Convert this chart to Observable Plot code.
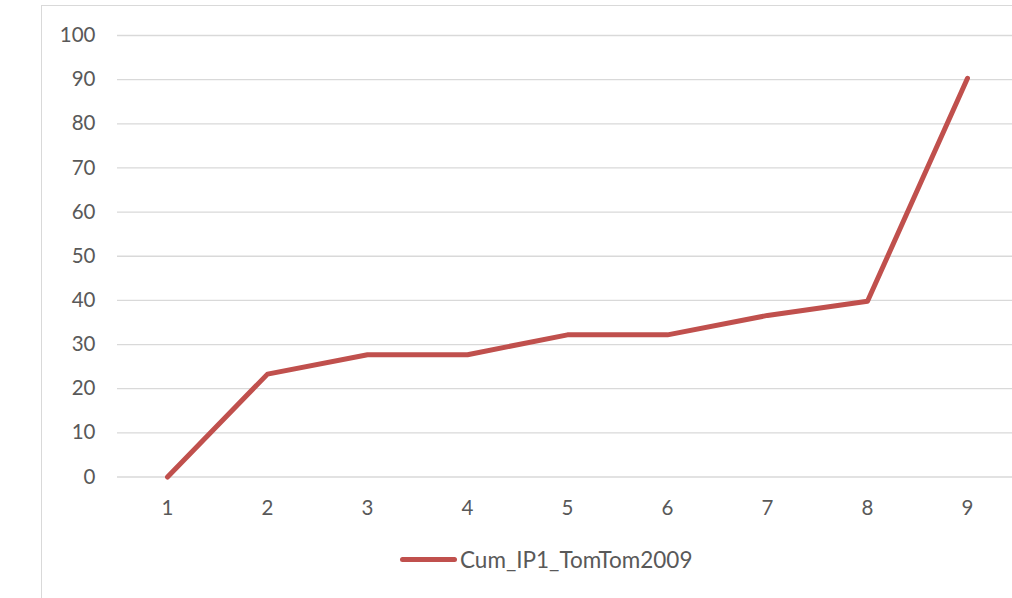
<!DOCTYPE html>
<html>
<head>
<meta charset="utf-8">
<script src="https://cdn.jsdelivr.net/npm/d3@7"></script>
<script src="https://cdn.jsdelivr.net/npm/@observablehq/plot@0.6"></script>
<style>
  html, body { margin: 0; padding: 0; background: #fff; overflow: hidden; width: 1012px; height: 598px; }
  #wrap { position: relative; width: 1012px; height: 598px; font-family: Lato, "Open Sans", sans-serif; }
  #frame { position: absolute; left: 41px; top: 5px; width: 1100px; height: 800px; border: 1px solid #d9d9d9; box-sizing: border-box; }
  #chart { position: absolute; left: 0; top: 0; }
  #legend { position: absolute; left: 400px; top: 546px; display: flex; align-items: center; color: #595959; font-size: 22.5px; }
  #legend .swatch { width: 57px; height: 5px; border-radius: 3px; background: #C0504D; margin-right: 3px; }
</style>
</head>
<body>
<div id="wrap">
  <div id="frame"></div>
  <div id="chart"></div>
  <div id="legend"><span class="swatch"></span><span id="legend-label"></span></div>
</div>
<script>
const categories = [1, 2, 3, 4, 5, 6, 7, 8, 9];
const values = [0, 23.3, 27.7, 27.7, 32.2, 32.2, 36.6, 39.8, 90.3];
const yTicks = [0, 10, 20, 30, 40, 50, 60, 70, 80, 90, 100];
const seriesName = "Cum_IP1_TomTom2009";

const data = categories.map((c, i) => ({cat: c, value: values[i]}));

const chart = Plot.plot({
  width: 1012,
  height: 530,
  marginLeft: 117,
  marginRight: 0,
  marginTop: 35,
  marginBottom: 53.5,
  style: {fontFamily: "Lato, 'Open Sans', sans-serif", fontSize: "20.5px", color: "#595959", background: "transparent"},
  x: {type: "point", domain: categories, range: [167, 967], padding: 0, label: null},
  y: {domain: [0, 100], label: null},
  marks: [
    Plot.ruleY(yTicks, {stroke: "#d9d9d9", strokeWidth: 1.3, strokeOpacity: 1}),
    Plot.axisY(yTicks, {tickSize: 0, tickPadding: 22, label: null, fill: "#595959"}),
    Plot.axisX(categories, {tickSize: 0, tickPadding: 23, label: null, fill: "#595959"}),
    Plot.line(data, {x: "cat", y: "value", stroke: "#C0504D", strokeWidth: 5, strokeLinecap: "round"})
  ]
});
document.getElementById("chart").appendChild(chart);
document.getElementById("legend-label").textContent = seriesName;
</script>
</body>
</html>
